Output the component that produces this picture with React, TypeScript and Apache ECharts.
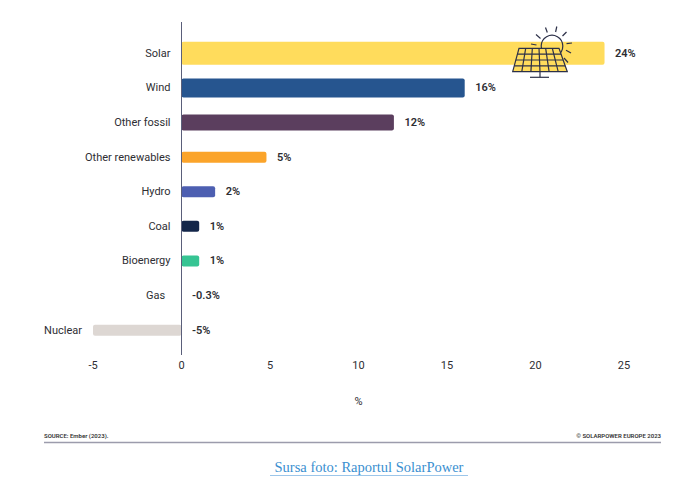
import React, { useEffect, useRef } from "react";
import * as echarts from "echarts";

const categories = ["Solar", "Wind", "Other fossil", "Other renewables", "Hydro", "Coal", "Bioenergy", "Gas", "Nuclear"];
const growth = [23.9, 16, 12, 4.8, 1.9, 1.0, 1.0, -0.3, -5];
const barColors = ["#ffdc5c", "#26558f", "#5b3e5e", "#fba42a", "#4d5fb1", "#13264a", "#36c493", "#ffffff", "#ddd7d3"];
const barThickness = [23, 19, 16, 11, 11, 11, 11, 11, 11];
const xMin = -5;
const xMax = 25;
const xStep = 5;

const FONT = "Roboto, 'DejaVu Sans', sans-serif";
const TEXT = "#2e2e33";

function fmt(v: number): string {
  return (Math.abs(v) < 1 ? v.toFixed(1) : String(Math.round(v))) + "%";
}

function iconElements(): any[] {
  const stroke = "#2c3048";
  const lw = 1.2;
  const els: any[] = [];
  els.push({ type: "circle", shape: { cx: 552, cy: 46, r: 10.8 }, style: { fill: "none", stroke, lineWidth: lw }, z: 100 });
  const rays = [
    [536, 34.5, 540.5, 38.5],
    [545.5, 27.5, 547.3, 32.5],
    [556.8, 26.5, 555.6, 32],
    [566.5, 32, 562.5, 36],
    [572, 43, 566.5, 43.6],
    [571, 53, 566, 50.2],
    [531, 44, 536.5, 45],
    [568, 62.5, 564, 58],
  ];
  rays.forEach((r) =>
    els.push({ type: "line", shape: { x1: r[0], y1: r[1], x2: r[2], y2: r[3] }, style: { stroke, lineWidth: lw }, z: 100 })
  );
  const tl = [519, 48.3], tr = [559, 48.3], bl = [512.7, 71.7], br = [567.3, 71.7];
  els.push({
    type: "polygon",
    shape: { points: [tl, tr, br, bl] },
    style: { fill: "#ffdc5c", stroke, lineWidth: lw },
    z: 101,
  });
  const rows = 4, cols = 6;
  for (let r = 1; r < rows; r++) {
    const t = r / rows;
    const y = tl[1] + (bl[1] - tl[1]) * t;
    const xl = tl[0] + (bl[0] - tl[0]) * t;
    const xr = tr[0] + (br[0] - tr[0]) * t;
    els.push({ type: "line", shape: { x1: xl, y1: y, x2: xr, y2: y }, style: { stroke, lineWidth: lw }, z: 102 });
  }
  for (let c = 1; c < cols; c++) {
    const t = c / cols;
    const xt = tl[0] + (tr[0] - tl[0]) * t;
    const xb = bl[0] + (br[0] - bl[0]) * t;
    els.push({ type: "line", shape: { x1: xt, y1: tl[1], x2: xb, y2: bl[1] }, style: { stroke, lineWidth: lw }, z: 102 });
  }
  els.push({ type: "line", shape: { x1: 540, y1: 71.7, x2: 540, y2: 77.3 }, style: { stroke, lineWidth: lw }, z: 102 });
  els.push({ type: "line", shape: { x1: 530, y1: 77.3, x2: 549, y2: 77.3 }, style: { stroke, lineWidth: lw }, z: 102 });
  return els;
}

export default function App() {
  const ref = useRef<HTMLDivElement>(null);
  useEffect(() => {
    if (!ref.current) return;
    const chart = echarts.init(ref.current, undefined, { renderer: "svg" });
    const option: any = {
      animation: false,
      backgroundColor: "#ffffff",
      grid: { left: 93, right: 76, top: 36, bottom: 137.5 },
      xAxis: {
        type: "value",
        min: xMin,
        max: xMax,
        interval: xStep,
        splitLine: { show: false },
        axisLine: { show: false },
        axisTick: { show: false },
        axisLabel: { color: TEXT, fontSize: 11, margin: 12, fontFamily: FONT },
        name: "%",
        nameLocation: "middle",
        nameGap: 48,
        nameTextStyle: { color: TEXT, fontSize: 11, fontFamily: FONT },
      },
      yAxis: {
        type: "category",
        data: categories,
        inverse: true,
        axisLine: { show: false },
        axisTick: { show: false },
        axisLabel: { show: false },
        splitLine: { show: false },
      },
      series: [
        {
          type: "custom",
          data: growth.map((v, i) => [v, i]),
          encode: { x: 0, y: 1 },
          renderItem: (params: any, api: any) => {
            const v = api.value(0);
            const i = params.dataIndex;
            const p0 = api.coord([0, i]);
            const p1 = api.coord([v, i]);
            const h = barThickness[i];
            const left = Math.min(p0[0], p1[0]);
            const right = Math.max(p0[0], p1[0]);
            return {
              type: "group",
              children: [
                {
                  type: "rect",
                  shape: { x: left, y: p0[1] - h / 2, width: right - left, height: h, r: 2 },
                  style: { fill: barColors[i] },
                },
                {
                  type: "text",
                  style: {
                    text: fmt(growth[i]),
                    x: right + 10.5,
                    y: p0[1],
                    align: "left",
                    verticalAlign: "middle",
                    fill: TEXT,
                    fontSize: 11,
                    fontWeight: 600,
                    fontFamily: FONT,
                  },
                },
                {
                  type: "text",
                  style: {
                    text: categories[i],
                    x: left - 11,
                    y: p0[1],
                    align: "right",
                    verticalAlign: "middle",
                    fill: TEXT,
                    fontSize: 11,
                    fontFamily: FONT,
                  },
                },
              ],
            };
          },
        },
      ],
    };
    chart.setOption(option);
    const zx = chart.convertToPixel({ xAxisIndex: 0 }, 0) as number;
    const graphic: any[] = [
      { type: "line", shape: { x1: zx, y1: 22, x2: zx, y2: 355 }, style: { stroke: "#5a5f7a", lineWidth: 1 }, z: 50 },
      ...iconElements(),
      {
        type: "text",
        style: { text: "SOURCE: Ember (2023).", x: 44, y: 435, align: "left", verticalAlign: "middle", fill: "#333", fontSize: 6, fontWeight: 600, fontFamily: FONT },
      },
      {
        type: "text",
        style: { text: "© SOLARPOWER EUROPE 2023", x: 661, y: 435, align: "right", verticalAlign: "middle", fill: "#333", fontSize: 6, fontWeight: 600, fontFamily: FONT },
      },
      { type: "line", shape: { x1: 44, y1: 442.5, x2: 661, y2: 442.5 }, style: { stroke: "#9c9cac", lineWidth: 1.6 } },
      {
        type: "text",
        style: { text: "Sursa foto: Raportul SolarPower", x: 369, y: 467, align: "center", verticalAlign: "middle", fill: "#3a8fd0", fontSize: 14.5, fontFamily: "'Liberation Serif', 'DejaVu Serif', serif" },
      },
      { type: "line", shape: { x1: 270, y1: 475.5, x2: 468, y2: 475.5 }, style: { stroke: "#9cc6ea", lineWidth: 1 } },
    ];
    chart.setOption({ graphic });
    return () => chart.dispose();
  }, []);
  return <div ref={ref} style={{ position: "absolute", left: 0, top: 0, width: 700, height: 485 }} />;
}
